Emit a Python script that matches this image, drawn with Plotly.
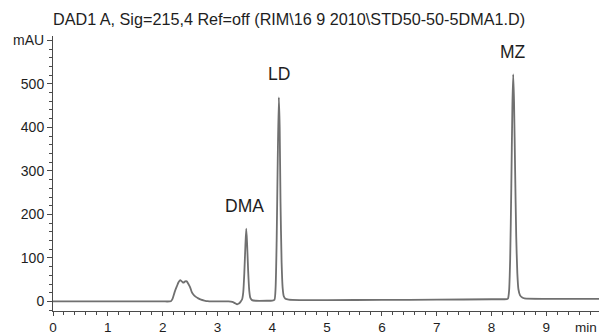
import plotly.graph_objects as go

# Chromatogram trace (time in min, signal in mAU)
time_min = [0.0, 1.0, 2.0, 2.15, 2.18, 2.22, 2.26, 2.29, 2.32, 2.35, 2.38, 2.41, 2.44,
            2.47, 2.50, 2.53, 2.56, 2.60, 2.65, 2.70, 2.76, 2.82, 2.90, 3.00, 3.20,
            3.27, 3.32, 3.36, 3.39, 3.42,
            3.45, 3.47, 3.49, 3.51, 3.525, 3.54, 3.56, 3.58, 3.60, 3.63, 3.70, 3.90, 4.00,
            4.04, 4.06, 4.08, 4.10, 4.12, 4.135, 4.15, 4.17, 4.19, 4.21, 4.24, 4.30, 4.50,
            5.0, 6.0, 7.0, 8.0, 8.28,
            8.30, 8.32, 8.34, 8.36, 8.38, 8.395, 8.41, 8.43, 8.45, 8.47, 8.49, 8.52, 8.56,
            8.60, 9.0, 9.96]
signal_mau = [0, 0, 0, 0.5, 6, 22, 35, 44, 49, 46, 43, 46, 46,
              40, 33, 22, 16, 11, 7, 4, 2, 0.5, 0, 0, 0,
              -1, -4, -6.5, -5, -1,
              5, 20, 65, 130, 167, 135, 70, 25, 8, 3, 1.5, 1.5, 2,
              4, 30, 140, 330, 469, 400, 230, 90, 30, 12, 6, 4, 3,
              3, 3.5, 4, 5, 5.5,
              7, 25, 100, 260, 450, 522, 460, 300, 150, 65, 28, 14, 9,
              7, 6, 6]

peak_names = ["DMA", "LD", "MZ"]
peak_label_x = [3.49, 4.12, 8.39]
peak_label_y = [220, 523, 573]

x_ticks = [0, 1, 2, 3, 4, 5, 6, 7, 8, 9]
y_tickvals = [0, 100, 200, 300, 400, 500, 600]
y_ticktext = ["0", "100", "200", "300", "400", "500", "mAU"]

title_text = "DAD1 A, Sig=215,4 Ref=off (RIM\\16 9 2010\\STD50-50-5DMA1.D)"

FONT = "Liberation Sans, Arial, sans-serif"
AX = "#4a4a4a"
TXT = "#1e1e1e"

fig = go.Figure()
fig.add_trace(go.Scatter(x=time_min, y=signal_mau, mode="lines",
                         line=dict(color="#707070", width=1.8, shape="spline", smoothing=0.6),
                         hoverinfo="skip", showlegend=False))

for name, px, py in zip(peak_names, peak_label_x, peak_label_y):
    fig.add_annotation(x=px, y=py, text=name, showarrow=False,
                       font=dict(family=FONT, size=17.5, color=TXT),
                       xanchor="center", yanchor="middle")

fig.add_annotation(xref="paper", yref="paper", x=0, y=1, text=title_text,
                   showarrow=False, xanchor="left", yanchor="middle", yshift=17,
                   xshift=-2, font=dict(family=FONT, size=16.2, color=TXT))
fig.add_annotation(xref="paper", yref="paper", x=1, y=0, text="min",
                   showarrow=False, xanchor="right", yanchor="middle", xshift=0,
                   yshift=-16, font=dict(family=FONT, size=13.5, color=TXT))

fig.update_xaxes(range=[0, 9.96], tickvals=x_ticks, showline=True, linecolor=AX,
                 linewidth=1, ticks="outside", ticklen=4, tickcolor=AX, showgrid=False,
                 zeroline=False, automargin=False,
                 tickfont=dict(family=FONT, size=13.5, color=TXT),
                 minor=dict(dtick=0.2, tick0=0, ticks="outside", ticklen=2.5, tickcolor=AX))
fig.update_yaxes(range=[-22, 610], tickvals=y_tickvals, ticktext=y_ticktext,
                 showline=True, linecolor=AX, linewidth=1, ticks="outside", ticklen=5,
                 tickcolor=AX, showgrid=False, zeroline=False, automargin=False,
                 tickfont=dict(family=FONT, size=14, color=TXT),
                 minor=dict(dtick=20, tick0=0, ticks="outside", ticklen=3, tickcolor=AX))

fig.update_layout(width=599, height=335, margin=dict(l=53, r=0, t=36, b=24),
                  paper_bgcolor="white", plot_bgcolor="white")

fig.write_html("out.html", config={"displayModeBar": False},
               post_script="document.body.style.margin='0px';")
